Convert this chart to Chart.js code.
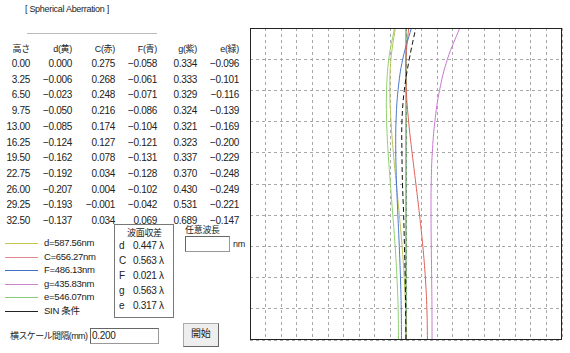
<!DOCTYPE html>
<html>
<head>
<meta charset="utf-8">
<script src="https://cdn.jsdelivr.net/npm/chart.js@4.4.0/dist/chart.umd.min.js"></script>
<style>
  body { margin: 0; width: 570px; height: 353px; overflow: hidden; position: relative; background: #fff;
         font-family: "Liberation Sans", "Noto Sans CJK JP", sans-serif; font-size: 10px; color: #222; }
  .t { position: absolute; white-space: nowrap; line-height: 12px; letter-spacing: -0.3px; }
  .r { text-align: right; }
  .box { position: absolute; border: 1px solid #999; border-top-color: #666; border-left-color: #666; background: #fff; }
  .leg { position: absolute; height: 1px; left: 5px; width: 33px; }
  #plot { position: absolute; left: 245px; top: 23px; width: 322px; height: 322px; }
</style>
</head>
<body>
<div class="t" style="left:25px;top:3px;font-size:9px;">[ Spherical Aberration ]</div>
<div style="position:absolute;left:27px;top:33px;width:130px;height:1px;background:#bbb;"></div>
<div id="table"></div>

<div id="legend"></div>

<div class="box" style="left:114px;top:224px;width:58px;height:92px;border:1px solid #777;"></div>
<div class="t" style="left:127px;top:227px;font-size:9px;">波面収差</div>
<div id="wave"></div>

<div class="t" style="left:185px;top:224px;font-size:9px;">任意波長</div>
<div class="box" style="left:185px;top:236px;width:43px;height:14px;"></div>
<div class="t" style="left:233px;top:238px;font-size:9px;">nm</div>

<div class="t" style="left:10px;top:330px;font-size:9px;letter-spacing:-0.6px;">横スケール間隔(mm)</div>
<div class="box" style="left:90px;top:328px;width:67px;height:14px;"></div>
<div class="t" style="left:92px;top:330px;">0.200</div>
<div class="box" style="left:183px;top:323px;width:34px;height:22px;background:#eee;border-color:#aaa #666 #666 #aaa;"></div>
<div class="t" style="left:191px;top:328px;font-size:10px;">開始</div>

<div id="plot"><canvas id="saChart"></canvas></div>

<script>
// 入射高さ
const heights = [0, 3.25, 6.5, 9.75, 13, 16.25, 19.5, 22.75, 26, 29.25, 32.5];
const dLine = [0.000, -0.006, -0.023, -0.050, -0.085, -0.124, -0.162, -0.192, -0.207, -0.193, -0.137];
const cLine = [0.275, 0.268, 0.248, 0.216, 0.174, 0.127, 0.078, 0.034, 0.004, -0.001, 0.034];
const fLine = [-0.058, -0.061, -0.071, -0.086, -0.104, -0.121, -0.131, -0.128, -0.102, -0.042, 0.069];
const gLine = [0.334, 0.333, 0.329, 0.324, 0.321, 0.323, 0.337, 0.370, 0.430, 0.531, 0.689];
const eLine = [-0.096, -0.101, -0.116, -0.139, -0.169, -0.200, -0.229, -0.248, -0.249, -0.221, -0.147];
// 正弦条件
const sinLine = [0, -0.005, -0.01, -0.02, -0.03, -0.045, -0.052, -0.052, -0.022, 0.042, 0.125];
const zeroAxis = [0, 0];
const zeroHeights = [0, 32.5];

const headers = ["高さ", "d(黄)", "C(赤)", "F(青)", "g(紫)", "e(緑)"];
const legendLabels = ["d=587.56nm", "C=656.27nm", "F=486.13nm", "g=435.83nm", "e=546.07nm", "SIN 条件"];
const legendColors = ["#c8c450", "#e08890", "#3f70bc", "#cc84cc", "#8ccc78", "#222222"];
const waveNames = ["d", "C", "F", "g", "e"];
const waveValues = ["0.447", "0.563", "0.021", "0.563", "0.317"];

// 横スケール 0.200mm 間隔, 高さ方向は入射高さの刻み
const xScaleStep = 0.2;
const xGrid = [];
for (let i = 0; i <= 20; i++) xGrid.push(-2 + i * xScaleStep);
const yGrid = heights;

// 表
const colRight = [30, 72, 115, 157, 197, 239];
const fmt = v => v.toFixed(3).replace("-", "−");
let html = "";
headers.forEach((h, c) => {
  html += `<div class="t r" style="left:${colRight[c] - 40}px;width:40px;top:43px;font-size:9px;">${h}</div>`;
});
heights.forEach((h, i) => {
  const top = 58 + i * 15.7;
  const row = [h.toFixed(2), fmt(dLine[i]), fmt(cLine[i]), fmt(fLine[i]), fmt(gLine[i]), fmt(eLine[i])];
  row.forEach((txt, c) => {
    html += `<div class="t r" style="left:${colRight[c] - 40}px;width:40px;top:${top}px;">${txt}</div>`;
  });
});
document.getElementById("table").innerHTML = html;

// 凡例
let lg = "";
legendLabels.forEach((l, i) => {
  const y = 243 + i * 13.6;
  lg += `<div class="leg" style="top:${y}px;background:${legendColors[i]};"></div>`;
  lg += `<div class="t" style="left:44px;top:${y - 6}px;font-size:9.5px;">${l}</div>`;
});
document.getElementById("legend").innerHTML = lg;

// 波面収差
let wv = "";
waveNames.forEach((n, i) => {
  const y = 240 + i * 15;
  wv += `<div class="t" style="left:119px;top:${y}px;">${n}</div>`;
  wv += `<div class="t" style="left:133px;top:${y}px;">${waveValues[i]} λ</div>`;
});
document.getElementById("wave").innerHTML = wv;

const pts = vals => heights.map((h, i) => ({ x: vals[i], y: h }));

const framePlugin = {
  id: "frame",
  afterDatasetsDraw(chart) {
    const { ctx, chartArea: a } = chart;
    ctx.save();
    ctx.strokeStyle = "#222";
    ctx.lineWidth = 1;
    ctx.strokeRect(Math.round(a.left) + 0.5, Math.round(a.top) + 0.5, Math.round(a.width) - 1, Math.round(a.height) - 1);
    ctx.restore();
  }
};

const line = (vals, color, extra) => Object.assign({
  data: pts(vals), borderColor: color, borderWidth: 1, pointRadius: 0, tension: 0.4, fill: false
}, extra || {});

new Chart(document.getElementById("saChart").getContext("2d"), {
  type: "line",
  data: {
    datasets: [
      line(sinLine, "#111", { borderDash: [5, 3] }),
      line(cLine, "#e0605a"),
      line(gLine, "#c878d0"),
      line(fLine, "#4a78cc"),
      line(dLine, "#b8c456"),
      line(eLine, "#8fd070"),
      { data: zeroHeights.map((h, i) => ({ x: zeroAxis[i], y: h })), borderColor: "#3d8a3d",
        borderWidth: 1, pointRadius: 0, fill: false }
    ]
  },
  options: {
    responsive: true,
    maintainAspectRatio: false,
    animation: false,
    layout: { padding: 5 },
    plugins: { legend: { display: false }, tooltip: { enabled: false } },
    scales: {
      x: {
        type: "linear", min: -2, max: 2,
        afterBuildTicks: axis => { axis.ticks = xGrid.map(v => ({ value: v })); },
        ticks: { display: false, autoSkip: false },
        grid: { color: "#a8a8a8", drawTicks: false },
        border: { display: false, dash: [3, 3] }
      },
      y: {
        type: "linear", min: 0, max: 32.5,
        afterBuildTicks: axis => { axis.ticks = yGrid.map(v => ({ value: v })); },
        ticks: { display: false, autoSkip: false },
        grid: { color: "#a8a8a8", drawTicks: false },
        border: { display: false, dash: [3, 3] }
      }
    }
  },
  plugins: [framePlugin]
});
</script>
</body>
</html>
